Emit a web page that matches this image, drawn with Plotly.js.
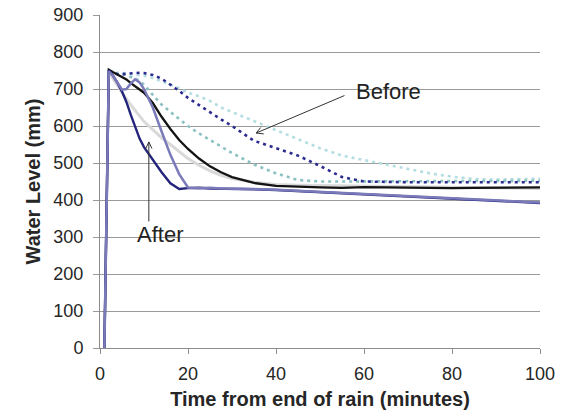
<!DOCTYPE html>
<html>
<head>
<meta charset="utf-8">
<script src="https://cdn.plot.ly/plotly-3.0.1.min.js"></script>
<style>html,body{margin:0;padding:0;background:#fff;}#chart{width:574px;height:411px;}</style>
</head>
<body>
<div id="chart"></div>
<script>
// Time (minutes from end of rain)
const time = [1, 2, 3, 4, 5, 6, 7, 8, 9, 10, 12, 14, 16, 18, 20, 22.5, 25, 27.5, 30, 35, 40, 45, 50, 55, 60, 65, 70, 75, 80, 85, 90, 95, 100];

// "Before" series (dotted)
const beforeCyan  = [null, 745, 745, 744, 743, 742, 741, 740, 738, 736, 730, 722, 712, 702, 690, 680, 668, 650, 638, 612, 588, 564, 540, 520, 508, 496, 486, 472, 463, 457, 455, 457, 458];
const beforeTeal  = [null, 745, 744, 742, 740, 737, 733, 728, 722, 712, 684, 658, 638, 618, 600, 580, 562, 543, 527, 496, 472, 454, 450, 450, 450, 450, 450, 450, 450, 451, 452, 452, 452];
const beforeNavy  = [null, 745, 742, 740, 740, 741, 742, 744, 744, 743, 738, 728, 712, 695, 676, 656, 637, 618, 600, 560, 540, 520, 492, 462, 450, 448, 448, 448, 448, 448, 448, 448, 448];

// Solid series
const solidGrey   = [null, 745, 728, 710, 690, 672, 657, 642, 626, 612, 590, 568, 550, 530, 512, 494, 479, 467, 458, 448, 442, 440, 439, 438, 438, 437, 437, 436, 435, 434, 433, 432, 431];
const solidBlack  = [0, 752, 745, 738, 732, 726, 716, 708, 700, 690, 662, 625, 592, 562, 538, 512, 491, 475, 462, 446, 438, 435, 434, 433, 435, 434, 433, 432, 432, 433, 433, 433, 434];
const afterNavy   = [0, 751, 735, 716, 693, 665, 630, 598, 566, 543, 508, 475, 445, 430, 432, 433, 431, 431, 430, 429, 427, 424, 421, 418, 416, 414, 410, 406, 403, 400, 397, 395, 392];
const afterPurple = [0, 748, 735, 715, 698, 700, 715, 726, 718, 700, 650, 585, 522, 470, 434, 432, 433, 431, 431, 430, 428, 425, 421, 418, 416, 414, 410, 406, 403, 400, 397, 394, 393];

const xTicks = [0, 20, 40, 60, 80, 100];
const yTicks = [0, 100, 200, 300, 400, 500, 600, 700, 800, 900];

const dotDash = '3px,4px';
const traces = [
  {y: beforeCyan,  color: '#b3dde1', width: 2.6, dash: dotDash},
  {y: beforeTeal,  color: '#8bc1c3', width: 2.6, dash: dotDash},
  {y: beforeNavy,  color: '#2b2b90', width: 2.6, dash: dotDash},
  {y: solidGrey,   color: '#d9d9d9', width: 3,   dash: 'solid'},
  {y: solidBlack,  color: '#141414', width: 2.3, dash: 'solid'},
  {y: afterNavy,   color: '#24247c', width: 2.4, dash: 'solid'},
  {y: afterPurple, color: '#7a7aba', width: 2.5, dash: 'solid'}
].map(s => ({
  x: time, y: s.y, type: 'scatter', mode: 'lines', connectgaps: false,
  line: {color: s.color, width: s.width, dash: s.dash},
  hoverinfo: 'skip', showlegend: false
}));

const textFont = {family: 'Liberation Sans, Arial, sans-serif', size: 22, color: '#222'};
const arrowBase = {text: '', showarrow: true, arrowhead: 0, arrowwidth: 1, arrowcolor: '#333', standoff: 0, startstandoff: 0, xref: 'x', yref: 'y'};

const annotations = [
  {x: 57.7, y: 692, xref: 'x', yref: 'y', text: 'Before', showarrow: false, xanchor: 'left', yanchor: 'middle', font: textFont},
  {x: 13.6, y: 306, xref: 'x', yref: 'y', text: 'After', showarrow: false, xanchor: 'center', yanchor: 'middle', font: textFont},
  // Before arrow
  Object.assign({}, arrowBase, {x: 35.5, y: 581, ax: 55.9, ay: 684, axref: 'x', ayref: 'y'}),
  Object.assign({}, arrowBase, {x: 35.5, y: 581, ax: 9, ay: 1}),
  Object.assign({}, arrowBase, {x: 35.5, y: 581, ax: 5.7, ay: -7}),
  // After arrow
  Object.assign({}, arrowBase, {x: 11.1, y: 557, ax: 11.1, ay: 338, axref: 'x', ayref: 'y'}),
  Object.assign({}, arrowBase, {x: 11.1, y: 557, ax: 3.8, ay: 8.2}),
  Object.assign({}, arrowBase, {x: 11.1, y: 557, ax: -3.8, ay: 8.2})
];

const tickFont = {family: 'Liberation Sans, Arial, sans-serif', size: 18, color: '#262626'};
const titleFont = {family: 'Liberation Sans, Arial, sans-serif', size: 20, color: '#262626', weight: 'bold'};

const layout = {
  width: 574, height: 411,
  margin: {l: 100, r: 34, t: 15, b: 63},
  paper_bgcolor: '#fff', plot_bgcolor: '#fff',
  showlegend: false,
  xaxis: {
    range: [0, 100], tickvals: xTicks, ticktext: xTicks.map(String),
    showgrid: false, zeroline: false,
    showline: true, linecolor: '#8c8c8c', linewidth: 1,
    ticks: 'outside', ticklen: 5, tickcolor: '#8c8c8c', tickwidth: 1,
    tickfont: tickFont, ticklabelstandoff: 4,
    title: {text: 'Time from end of rain (minutes)', font: titleFont, standoff: 9}
  },
  yaxis: {
    range: [0, 900], tickvals: yTicks, ticktext: yTicks.map(String),
    showgrid: true, gridcolor: '#9a9a9a', gridwidth: 1, zeroline: false,
    showline: true, linecolor: '#8c8c8c', linewidth: 1,
    ticks: 'outside', ticklen: 6, tickcolor: '#9a9a9a', tickwidth: 1,
    tickfont: tickFont, ticklabelstandoff: 6,
    title: {text: 'Water Level (mm)', font: titleFont, standoff: 7}
  },
  annotations: annotations
};

Plotly.newPlot('chart', traces, layout, {staticPlot: true, displayModeBar: false});
</script>
</body>
</html>
